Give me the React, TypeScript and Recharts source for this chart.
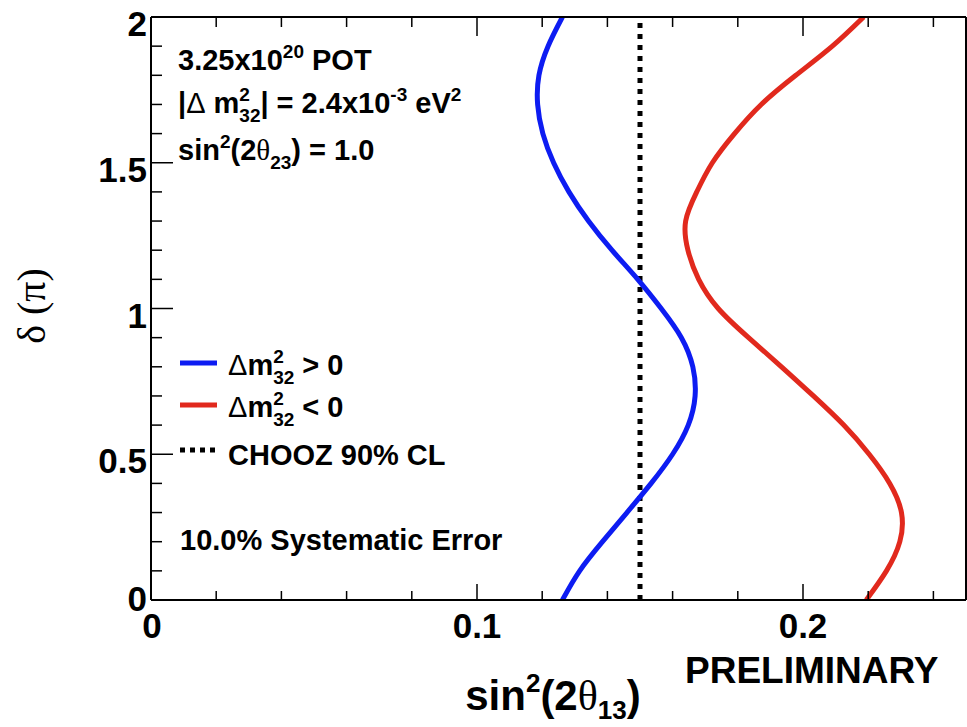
import React from 'react';
import { ComposedChart, Line, XAxis, YAxis, ReferenceLine } from 'recharts';

// CP phase delta (in units of pi) at which each contour is sampled
const deltaGrid = [0, 0.1, 0.2, 0.3, 0.4, 0.5, 0.6, 0.7, 0.8, 0.9, 1.0, 1.1, 1.2, 1.3, 1.4, 1.5, 1.6, 1.7, 1.8, 1.9, 2.0];
// sin^2(2 theta13) sensitivity, normal hierarchy (dm32^2 > 0)
const normalHierarchy = [0.1262, 0.1315, 0.1385, 0.146, 0.1534, 0.16, 0.1648, 0.1669, 0.1662, 0.1627, 0.1565, 0.1493, 0.1414, 0.1342, 0.1282, 0.1235, 0.1202, 0.1186, 0.119, 0.1218, 0.1262];
// sin^2(2 theta13) sensitivity, inverted hierarchy (dm32^2 < 0)
const invertedHierarchy = [0.2194, 0.2256, 0.2297, 0.2302, 0.2266, 0.2203, 0.2125, 0.2032, 0.1934, 0.1833, 0.174, 0.168, 0.1647, 0.164, 0.1674, 0.1722, 0.179, 0.1872, 0.1978, 0.209, 0.2186];
// CHOOZ 90% CL upper limit
const choozLimit = 0.15;

const xTicks = [0, 0.02, 0.04, 0.06, 0.08, 0.1, 0.12, 0.14, 0.16, 0.18, 0.2, 0.22, 0.24];
const xLabels: Record<string, string> = { '0': '0', '0.1': '0.1', '0.2': '0.2' };
const yTicks = [0, 0.1, 0.2, 0.3, 0.4, 0.5, 0.6, 0.7, 0.8, 0.9, 1, 1.1, 1.2, 1.3, 1.4, 1.5, 1.6, 1.7, 1.8, 1.9, 2];
const yLabels: Record<string, string> = { '0': '0', '0.5': '0.5', '1': '1', '1.5': '1.5', '2': '2' };

const normalData = deltaGrid.map((d, i) => ({ delta: d, s: normalHierarchy[i] }));
const invertedData = deltaGrid.map((d, i) => ({ delta: d, s: invertedHierarchy[i] }));

const W = 967;
const H = 727;
const SANS = "'Liberation Sans', Arial, Helvetica, sans-serif";
const GREEK = "'Liberation Serif', 'DejaVu Serif', serif";
const BLUE = '#0d1cf2';
const RED = '#e1291d';

// frame edges of the plotting area
const LEFT = 151;
const RIGHT = 966;
const TOP = 17;
const BOTTOM = 600;

const isMajorX = (v: number) => Math.abs(v * 10 - Math.round(v * 10)) < 1e-6;
const isMajorY = (v: number) => Math.abs(v * 2 - Math.round(v * 2)) < 1e-6;

const BottomTick = (props: any) => {
  const { x, payload } = props;
  const v = payload.value as number;
  const major = isMajorX(v);
  const label = xLabels[String(v)];
  return (
    <g>
      <line x1={x} x2={x} y1={BOTTOM} y2={BOTTOM - (major ? 16 : 9)} stroke="#000" strokeWidth={1.5} />
      {label !== undefined && (
        <text x={x + (v === 0 ? 1 : 0)} y={BOTTOM + 38} textAnchor="middle" fontFamily={SANS} fontWeight="bold" fontSize={35} fill="#000">
          {label}
        </text>
      )}
    </g>
  );
};

const TopTick = (props: any) => {
  const { x, payload } = props;
  const major = isMajorX(payload.value);
  return <line x1={x} x2={x} y1={TOP} y2={TOP + (major ? 19 : 10)} stroke="#000" strokeWidth={1.5} />;
};

const LeftTick = (props: any) => {
  const { y, payload } = props;
  const v = payload.value as number;
  const major = isMajorY(v);
  const label = yLabels[String(v)];
  return (
    <g>
      <line x1={LEFT} x2={LEFT + (major ? 22 : 11)} y1={y} y2={y} stroke="#000" strokeWidth={1.5} />
      {label !== undefined && (
        <text x={LEFT - 4} y={y + (v === 0 ? 11 : 19)} textAnchor="end" fontFamily={SANS} fontWeight="bold" fontSize={35} fill="#000">
          {label}
        </text>
      )}
    </g>
  );
};

const RightTick = (props: any) => {
  const { y, payload } = props;
  const major = isMajorY(payload.value);
  return <line x1={RIGHT} x2={RIGHT - (major ? 21 : 11)} y1={y} y2={y} stroke="#000" strokeWidth={1.5} />;
};

const txt = { fontFamily: SANS, fontWeight: 'bold' as const, fontSize: 29, fill: '#000' };

const Annotations = () => (
  <svg width={W} height={H} style={{ position: 'absolute', left: 0, top: 0, pointerEvents: 'none' }}>
    {/* run conditions */}
    <text x={178} y={70} {...txt}>
      3.25x10<tspan fontSize={19} dy={-12}>20</tspan>
      <tspan dy={12}> POT</tspan>
    </text>
    <text x={178} y={113} {...txt}>
      |<tspan fontWeight="normal">Δ</tspan> m
      <tspan fontSize={19} dy={-12}>2</tspan>
      <tspan fontSize={19} dx={-10.6} dy={21}>32</tspan>
      <tspan dy={-9}>| = 2.4x10</tspan>
      <tspan fontSize={19} dy={-12}>-3</tspan>
      <tspan dy={12}> eV</tspan>
      <tspan fontSize={19} dy={-12}>2</tspan>
    </text>
    <text x={178} y={160} {...txt}>
      sin<tspan fontSize={19} dy={-12}>2</tspan>
      <tspan dy={12}>(2</tspan>
      <tspan fontFamily={GREEK} fontWeight="normal">θ</tspan>
      <tspan fontSize={19} dy={9}>23</tspan>
      <tspan dy={-9}>) = 1.0</tspan>
    </text>

    {/* legend */}
    <line x1={180} x2={217} y1={363} y2={363} stroke={BLUE} strokeWidth={5} />
    <text x={228} y={375} {...txt}>
      <tspan fontWeight="normal">Δ</tspan>m
      <tspan fontSize={19} dy={-12}>2</tspan>
      <tspan fontSize={19} dx={-10.6} dy={21}>32</tspan>
      <tspan dy={-9}> &gt; 0</tspan>
    </text>
    <line x1={180} x2={217} y1={405} y2={405} stroke={RED} strokeWidth={5} />
    <text x={228} y={417} {...txt}>
      <tspan fontWeight="normal">Δ</tspan>m
      <tspan fontSize={19} dy={-12}>2</tspan>
      <tspan fontSize={19} dx={-10.6} dy={21}>32</tspan>
      <tspan dy={-9}> &lt; 0</tspan>
    </text>
    <line x1={180} x2={216} y1={450} y2={450} stroke="#000" strokeWidth={5} strokeDasharray="5 5" />
    <text x={228} y={465} {...txt}>CHOOZ 90% CL</text>

    <text x={180} y={550} {...txt}>10.0% Systematic Error</text>

    {/* axis titles */}
    <text transform="translate(45,306) rotate(-90)" textAnchor="middle" fontFamily={GREEK} fontSize={40} fill="#000">
      δ (π)
    </text>
    <text x={553} y={710} textAnchor="middle" fontFamily={SANS} fontWeight="bold" fontSize={42} fill="#000">
      sin<tspan fontSize={26} dy={-18}>2</tspan>
      <tspan dy={18}>(2</tspan>
      <tspan fontFamily={GREEK} fontWeight="normal">θ</tspan>
      <tspan fontSize={26} dy={9}>13</tspan>
      <tspan dy={-9}>)</tspan>
    </text>
    <text x={685} y={683} fontFamily={SANS} fontWeight="bold" fontSize={37} fill="#000">PRELIMINARY</text>
  </svg>
);

const axisLine = { stroke: '#000', strokeWidth: 2 };

export default function App() {
  return (
    <div style={{ position: 'absolute', left: 0, top: 0, width: W, height: H, background: '#fff' }}>
      <ComposedChart
        width={W}
        height={H}
        layout="vertical"
        margin={{ top: TOP - 1, right: W - RIGHT - 1, bottom: H - BOTTOM - 1, left: LEFT - 1 }}
      >
        <XAxis
          xAxisId={0}
          type="number"
          dataKey="s"
          domain={[0, 0.25]}
          allowDataOverflow
          ticks={xTicks}
          interval={0}
          height={1}
          tickSize={0}
          tickMargin={0}
          tickLine={false}
          axisLine={axisLine}
          tick={BottomTick}
        />
        <XAxis
          xAxisId="top"
          orientation="top"
          type="number"
          domain={[0, 0.25]}
          allowDataOverflow
          ticks={xTicks}
          interval={0}
          height={1}
          tickSize={0}
          tickMargin={0}
          tickLine={false}
          axisLine={axisLine}
          tick={TopTick}
        />
        <YAxis
          yAxisId={0}
          type="number"
          dataKey="delta"
          domain={[0, 2]}
          reversed
          allowDataOverflow
          ticks={yTicks}
          interval={0}
          width={1}
          tickSize={0}
          tickMargin={0}
          tickLine={false}
          axisLine={axisLine}
          tick={LeftTick}
        />
        <YAxis
          yAxisId="right"
          orientation="right"
          type="number"
          domain={[0, 2]}
          reversed
          allowDataOverflow
          ticks={yTicks}
          interval={0}
          width={1}
          tickSize={0}
          tickMargin={0}
          tickLine={false}
          axisLine={axisLine}
          tick={RightTick}
        />
        <ReferenceLine
          xAxisId={0}
          yAxisId={0}
          x={choozLimit}
          stroke="#000"
          strokeWidth={5}
          strokeDasharray="5 6"
        />
        <Line
          xAxisId={0}
          yAxisId={0}
          data={normalData}
          dataKey="s"
          type="natural"
          stroke={BLUE}
          strokeWidth={5}
          dot={false}
          activeDot={false}
          isAnimationActive={false}
        />
        <Line
          xAxisId={0}
          yAxisId={0}
          data={invertedData}
          dataKey="s"
          type="natural"
          stroke={RED}
          strokeWidth={5}
          dot={false}
          activeDot={false}
          isAnimationActive={false}
        />
      </ComposedChart>
      <Annotations />
    </div>
  );
}
